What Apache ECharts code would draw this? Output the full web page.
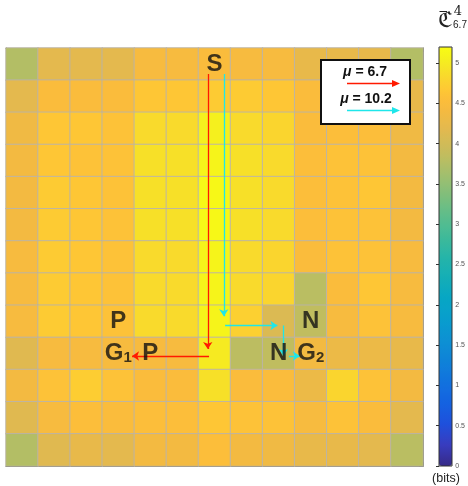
<!DOCTYPE html>
<html>
<head>
<meta charset="utf-8">
<script src="https://cdn.jsdelivr.net/npm/echarts@6/dist/echarts.min.js"></script>
<style>
html,body{margin:0;padding:0;background:#fff;}
#c{width:468px;height:486px;}
</style>
</head>
<body>
<div id="c"></div>
<script>
// ---- data ----
const colNames = ['1','2','3','4','5','6','7','8','9','10','11','12','13'];
const rowNames = ['1','2','3','4','5','6','7','8','9','10','11','12','13'];
const row0  = [3.75, 4.20, 4.20, 4.20, 4.45, 4.45, 4.50, 4.45, 4.45, 4.25, 4.25, 4.25, 3.75];
const row1  = [4.20, 4.50, 4.50, 4.50, 4.65, 4.65, 4.70, 4.70, 4.65, 4.50, 4.45, 4.45, 4.25];
const row2  = [4.35, 4.65, 4.65, 4.60, 4.85, 4.85, 5.05, 4.85, 4.80, 4.50, 4.55, 4.55, 4.35];
const row3  = [4.40, 4.65, 4.60, 4.60, 4.90, 4.90, 5.10, 4.90, 4.85, 4.55, 4.60, 4.60, 4.40];
const row4  = [4.40, 4.70, 4.65, 4.60, 4.90, 4.90, 5.15, 4.90, 4.85, 4.55, 4.60, 4.65, 4.40];
const row5  = [4.40, 4.70, 4.65, 4.60, 4.90, 4.90, 5.15, 4.90, 4.85, 4.55, 4.60, 4.60, 4.40];
const row6  = [4.45, 4.70, 4.65, 4.60, 4.85, 4.85, 5.10, 4.85, 4.80, 4.50, 4.60, 4.60, 4.45];
const row7  = [4.45, 4.70, 4.65, 4.60, 4.85, 4.85, 5.10, 4.85, 4.80, 3.80, 4.50, 4.65, 4.45];
const row8  = [4.45, 4.70, 4.65, 4.60, 4.85, 4.85, 5.10, 4.75, 4.10, 3.85, 4.45, 4.60, 4.45];
const row9  = [4.15, 4.45, 4.45, 4.45, 4.45, 4.45, 5.00, 3.82, 3.85, 4.40, 4.30, 4.30, 4.25];
const row10 = [4.40, 4.60, 4.72, 4.60, 4.50, 4.50, 4.90, 4.50, 4.50, 4.30, 4.80, 4.60, 4.40];
const row11 = [4.15, 4.45, 4.55, 4.50, 4.55, 4.55, 4.65, 4.60, 4.60, 4.45, 4.60, 4.50, 4.20];
const row12 = [3.75, 4.15, 4.25, 4.20, 4.40, 4.40, 4.55, 4.40, 4.35, 4.25, 4.25, 4.20, 3.80];
const grid = [row0,row1,row2,row3,row4,row5,row6,row7,row8,row9,row10,row11,row12];

const cbMin = 0, cbMax = 5.2, cbStep = 0.5;

// annotation letters: [col, row, text]
const labels = [
  [6, 0, '{b|S}'],
  [3, 8, '{b|P}'],
  [3, 9, '{b|G}{s|1}'],
  [4, 9, '{b|P}'],
  [9, 8, '{b|N}'],
  [8, 9, '{b|N}'],
  [9, 9, '{b|G}{s|2}']
];
// paths in cell units (mu = 6.7, red)
const redPaths = [
  [[5.79, 0.31], [5.79, 8.86]],
  [[5.83, 9.08], [3.43, 9.08]]
];
// paths in cell units (mu = 10.2, cyan)
const cyanPaths = [
  [[6.29, 0.31], [6.29, 7.84]],
  [[6.33, 8.13], [7.96, 8.13]],
  [[8.15, 8.13], [8.15, 9.08]],
  [[8.32, 9.08], [8.66, 9.08]]
];

// parula-like colour stops [position, rgb]
const parulaStops = [
  [0.00, [53, 42, 135]], [0.05, [56, 60, 190]], [0.10, [30, 80, 220]], [0.15, [20, 98, 225]],
  [0.20, [17, 114, 222]], [0.25, [14, 130, 216]], [0.30, [13, 145, 211]], [0.35, [8, 157, 205]],
  [0.40, [7, 166, 196]], [0.45, [20, 174, 182]], [0.50, [38, 181, 168]], [0.55, [65, 186, 152]],
  [0.60, [95, 189, 138]], [0.65, [130, 190, 122]], [0.70, [165, 191, 108]], [0.75, [198, 188, 92]],
  [0.80, [225, 185, 80]], [0.85, [245, 186, 64]], [0.875, [252, 190, 58]], [0.90, [254, 201, 52]],
  [0.925, [250, 214, 46]], [0.95, [246, 228, 38]], [0.975, [245, 242, 28]], [1.00, [249, 251, 21]]
];
function sampleStops(n) {
  const out = [];
  for (let i = 0; i < n; i++) {
    const t = i / (n - 1);
    let k = 0;
    while (k < parulaStops.length - 2 && parulaStops[k + 1][0] < t) k++;
    const [t0, c0] = parulaStops[k], [t1, c1] = parulaStops[k + 1];
    const f = Math.min(1, Math.max(0, (t - t0) / (t1 - t0)));
    const c = c0.map((v, j) => Math.round(v + (c1[j] - v) * f));
    out.push('rgb(' + c.join(',') + ')');
  }
  return out;
}
const parula = sampleStops(81);

const heatData = [];
grid.forEach((row, r) => row.forEach((v, c) => heatData.push([c, r, v])));

const RED = '#ff1a00', CYAN = '#1ee6ea';
const FONT = '"Liberation Sans", Arial, sans-serif';

function boxAxis(pos, isX, data) {
  return {
    gridIndex: 0, type: 'category', data: data, position: pos,
    inverse: !isX,
    axisLine: {show: true, lineStyle: {color: '#5a5a5a', width: 1}},
    axisTick: {show: true, inside: true, length: 4, lineStyle: {color: '#444', width: 1}},
    axisLabel: {show: false}, splitLine: {show: false}
  };
}

const chart = echarts.init(document.getElementById('c'), null, {renderer: 'canvas'});
chart.setOption({
  backgroundColor: '#ffffff',
  animation: false,
  grid: [
    {left: 6, top: 48, width: 417, height: 418},
    {left: 6, top: 48, width: 417, height: 418},
    {left: 439, top: 47, width: 13, height: 419}
  ],
  xAxis: [
    boxAxis('bottom', true, colNames),
    boxAxis('top', true, colNames),
    {gridIndex: 1, type: 'value', min: -0.5, max: 12.5, show: false},
    {gridIndex: 2, type: 'value', min: 0, max: 1, show: false}
  ],
  yAxis: [
    boxAxis('left', false, rowNames),
    boxAxis('right', false, rowNames),
    {gridIndex: 1, type: 'value', min: -0.5, max: 12.5, inverse: true, show: false},
    {gridIndex: 2, type: 'value', min: cbMin, max: cbMax, interval: cbStep, position: 'right', z: 10,
      axisLine: {show: false},
      axisTick: {show: true, inside: true, length: 3, lineStyle: {color: '#333'}},
      axisLabel: {show: true, fontSize: 7, color: '#555', margin: 4, fontFamily: FONT, showMaxLabel: false},
      splitLine: {show: false}}
  ],
  visualMap: {
    type: 'continuous', min: cbMin, max: cbMax, seriesIndex: 0,
    calculable: false, hoverLink: false, left: 439, top: 47,
    itemWidth: 13, itemHeight: 419, padding: 0, text: null,
    inRange: {color: parula}
  },
  graphic: [
    {type: 'rect', z: 20, shape: {x: 439, y: 47, width: 13, height: 419}, style: {fill: 'none', stroke: '#333', lineWidth: 1}},
    // colorbar title
    {type: 'text', z: 20, style: {x: 445, y: 21, text: 'ℭ', font: '22px "DejaVu Serif", serif', fill: '#222', textAlign: 'center', textVerticalAlign: 'middle'}},
    {type: 'line', z: 20, shape: {x1: 439.5, y1: 11.5, x2: 447, y2: 11.5}, style: {stroke: '#222', lineWidth: 1}},
    {type: 'text', z: 20, style: {x: 458, y: 12, text: '4', font: '13px "DejaVu Serif", serif', fill: '#222', textAlign: 'center', textVerticalAlign: 'middle'}},
    {type: 'text', z: 20, style: {x: 460, y: 25, text: '6.7', font: '10px ' + FONT, fill: '#222', textAlign: 'center', textVerticalAlign: 'middle'}},
    {type: 'text', z: 20, style: {x: 446, y: 479, text: '(bits)', font: '12.5px ' + FONT, fill: '#222', textAlign: 'center', textVerticalAlign: 'middle'}},
    // legend box
    {type: 'rect', z: 30, shape: {x: 321, y: 60, width: 89, height: 64}, style: {fill: '#fff', stroke: '#111', lineWidth: 2}},
    {type: 'text', z: 31, style: {x: 365, y: 72, text: '{m|μ}{t| = 6.7}', textAlign: 'center', textVerticalAlign: 'middle',
      rich: {m: {font: 'italic bold 14px ' + FONT, fill: '#111'}, t: {font: 'bold 14px ' + FONT, fill: '#111'}}}},
    {type: 'line', z: 31, shape: {x1: 347, y1: 83.5, x2: 394, y2: 83.5}, style: {stroke: RED, lineWidth: 1.5}},
    {type: 'polygon', z: 31, shape: {points: [[392, 80], [400, 83.5], [392, 87]]}, style: {fill: RED}},
    {type: 'text', z: 31, style: {x: 366, y: 99, text: '{m|μ}{t| = 10.2}', textAlign: 'center', textVerticalAlign: 'middle',
      rich: {m: {font: 'italic bold 14px ' + FONT, fill: '#111'}, t: {font: 'bold 14px ' + FONT, fill: '#111'}}}},
    {type: 'line', z: 31, shape: {x1: 347, y1: 110.5, x2: 394, y2: 110.5}, style: {stroke: CYAN, lineWidth: 1.5}},
    {type: 'polygon', z: 31, shape: {points: [[392, 107], [400, 110.5], [392, 114]]}, style: {fill: CYAN}}
  ],
  series: [
    {
      type: 'heatmap', xAxisIndex: 0, yAxisIndex: 0, data: heatData,
      itemStyle: {borderColor: 'rgba(185,180,170,0.9)', borderWidth: 1},
      emphasis: {disabled: true}, progressive: 0
    },
    {
      type: 'lines', coordinateSystem: 'cartesian2d', xAxisIndex: 2, yAxisIndex: 2, z: 5,
      symbol: ['none', 'arrow'], symbolSize: 7,
      lineStyle: {color: RED, width: 1.3, opacity: 1},
      data: redPaths.map(p => ({coords: p}))
    },
    {
      type: 'lines', coordinateSystem: 'cartesian2d', xAxisIndex: 2, yAxisIndex: 2, z: 5,
      symbol: ['none', 'arrow'], symbolSize: 7,
      lineStyle: {color: CYAN, width: 1.3, opacity: 1},
      data: cyanPaths.map(p => ({coords: p}))
    },
    {
      type: 'scatter', xAxisIndex: 2, yAxisIndex: 2, z: 6, symbolSize: 0,
      data: labels,
      label: {
        show: true, position: 'inside',
        formatter: p => p.data[2],
        rich: {
          b: {fontFamily: FONT, fontWeight: 'bold', fontSize: 24, color: '#111', verticalAlign: 'bottom'},
          s: {fontFamily: FONT, fontWeight: 'bold', fontSize: 15, color: '#111', verticalAlign: 'bottom'}
        }
      }
    }
  ]
});
</script>
</body>
</html>
